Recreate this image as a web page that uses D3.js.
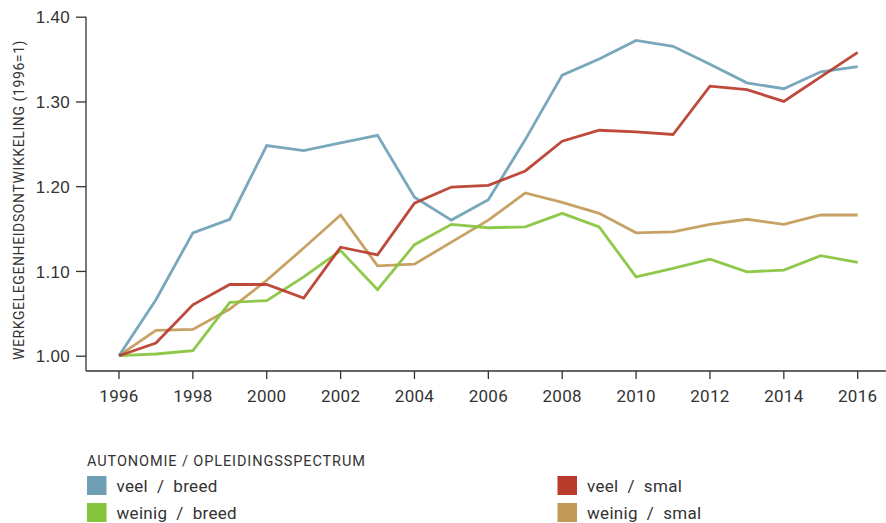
<!DOCTYPE html>
<html>
<head>
<meta charset="utf-8">
<script src="https://cdn.jsdelivr.net/npm/d3@7"></script>
<style>
  body { margin: 0; background: #fff; }
  svg { display: block; font-family: Roboto, "DejaVu Sans", sans-serif; }
  .axis path, .axis line { stroke: #333; stroke-width: 1.3; }
  .axis text { fill: #333; font-size: 17px; letter-spacing: 0.3px; }
</style>
</head>
<body>
<div id="chart"></div>
<script>
// data
var years = d3.range(1996, 2017);
var veelBreed   = [1.000, 1.066, 1.145, 1.161, 1.248, 1.242, 1.251, 1.260, 1.187, 1.160, 1.184, 1.255, 1.331, 1.350, 1.372, 1.365, 1.344, 1.322, 1.315, 1.335, 1.341];
var veelSmal    = [1.000, 1.015, 1.060, 1.084, 1.084, 1.068, 1.128, 1.119, 1.180, 1.199, 1.201, 1.218, 1.253, 1.266, 1.264, 1.261, 1.318, 1.314, 1.300, 1.329, 1.358];
var weinigBreed = [1.000, 1.002, 1.006, 1.063, 1.065, 1.093, 1.124, 1.078, 1.131, 1.155, 1.151, 1.152, 1.168, 1.152, 1.093, 1.103, 1.114, 1.099, 1.101, 1.118, 1.110];
var weinigSmal  = [1.000, 1.030, 1.031, 1.055, 1.089, 1.127, 1.166, 1.106, 1.108, 1.134, 1.160, 1.192, 1.181, 1.168, 1.145, 1.146, 1.155, 1.161, 1.155, 1.166, 1.166];
var yTicks = [1.00, 1.10, 1.20, 1.30, 1.40];
var xTicks = d3.range(1996, 2017, 2);

var series = [
  {name: "veel  /  breed",   values: veelBreed,   color: "#6e9fb5"},
  {name: "weinig  /  breed", values: weinigBreed, color: "#86c43c"},
  {name: "veel  /  smal",    values: veelSmal,    color: "#b83b2b"},
  {name: "weinig  /  smal",  values: weinigSmal,  color: "#c29a57"}
];
var drawOrder = [series[3], series[1], series[0], series[2]];

var width = 886, height = 523;
var axisX = 86, axisY = 371;

var svg = d3.select("#chart").append("svg")
    .attr("width", width).attr("height", height);

var xScale = d3.scaleLinear().domain([1996, 2016]).range([119, 857.7]);
var yScale = d3.scaleLinear().domain([1.0, 1.4]).range([355.7, 16.7]);

// x axis
var xg = svg.append("g").attr("class", "x axis")
    .attr("transform", "translate(0," + axisY + ")");
xg.append("line").attr("x1", axisX).attr("x2", width).attr("y1", 0).attr("y2", 0);
xg.selectAll(".tick").data(xTicks).enter().append("g").attr("class", "tick")
  .attr("transform", function(d) { return "translate(" + xScale(d) + ",0)"; })
  .each(function(d) {
    var g = d3.select(this);
    g.append("line").attr("y1", 0).attr("y2", 8);
    g.append("text").attr("y", 31).attr("text-anchor", "middle").text(d);
  });

// y axis
var yAxis = d3.axisLeft(yScale).tickValues(yTicks).tickFormat(d3.format(".2f"))
    .tickSize(10).tickSizeOuter(0).tickPadding(6);
var yg = svg.append("g").attr("class", "y axis")
    .attr("transform", "translate(" + axisX + ",0)")
    .call(yAxis);
yg.select(".domain").attr("d", "M0," + yScale(1.4) + "V" + axisY);
yg.selectAll("text").attr("dy", "0.36em");

svg.append("text")
    .attr("transform", "translate(24,200) rotate(-90)")
    .attr("text-anchor", "middle")
    .attr("fill", "#333")
    .style("font-size", "14px")
    .style("letter-spacing", "0.6px")
    .text("WERKGELEGENHEIDSONTWIKKELING (1996=1)");

// lines
var line = d3.line()
    .x(function(d, i) { return xScale(years[i]); })
    .y(function(d) { return yScale(d); });

svg.append("g").selectAll("path").data(drawOrder).enter().append("path")
    .attr("d", function(d) { return line(d.values); })
    .attr("fill", "none")
    .attr("stroke", function(d) { return d.color; })
    .attr("stroke-width", 2.8)
    .attr("stroke-opacity", 0.92)
    .attr("stroke-linejoin", "miter");

// legend
svg.append("text")
    .attr("x", 87).attr("y", 466)
    .attr("fill", "#333")
    .attr("xml:space", "preserve")
    .style("white-space", "pre")
    .style("font-size", "14.5px")
    .style("letter-spacing", "0.9px")
    .text("AUTONOMIE / OPLEIDINGSSPECTRUM");

var legendPos = [[87, 476], [87, 503], [557.5, 476], [557.5, 503]];
var leg = svg.append("g").selectAll("g").data(series).enter().append("g")
    .attr("transform", function(d, i) { return "translate(" + legendPos[i][0] + "," + legendPos[i][1] + ")"; });
leg.append("rect").attr("width", 19.5).attr("height", 19).attr("fill", function(d) { return d.color; });
leg.append("text").attr("x", 29.5).attr("y", 16)
    .attr("fill", "#333")
    .attr("xml:space", "preserve")
    .style("white-space", "pre")
    .style("font-size", "17px")
    .style("letter-spacing", "0.3px")
    .text(function(d) { return d.name; });
</script>
</body>
</html>
